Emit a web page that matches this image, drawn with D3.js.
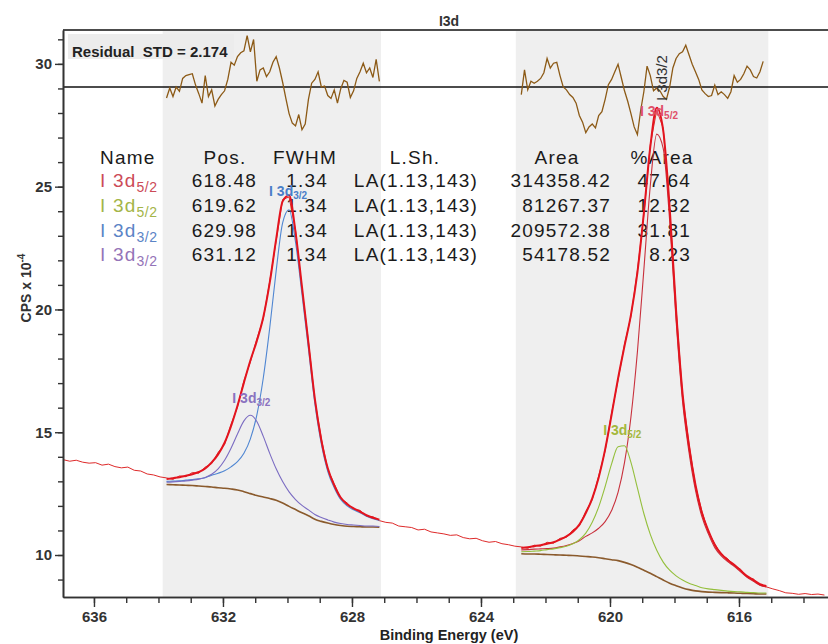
<!DOCTYPE html>
<html><head><meta charset="utf-8">
<script src="https://cdn.jsdelivr.net/npm/d3@7"></script>
<style>
body{margin:0;background:#fff}
svg{display:block;font-family:"Liberation Sans",Arial,sans-serif}
</style>
</head><body>
<svg id="c" width="828" height="644"></svg>
<script>
// ---------------- DATA ----------------
// Experimental spectrum (CPS x 10^-4), binding energy grid 636.95 eV downward, step 0.2 eV
const dataStartBE = 636.95, dataStepBE = 0.2;
const dataCPS = [13.88,13.82,13.86,13.78,13.74,13.76,13.66,13.70,13.60,13.55,13.58,13.45,13.42,13.30,13.26,13.18,
 13.14,13.08,13.22,13.19,13.36,13.33,13.58,13.72,14.18,14.50,15.32,16.02,17.10,17.86,18.80,19.62,21.15,22.80,24.48,24.58,23.22,20.85,18.70,16.30,14.74,13.48,12.90,12.30,12.12,11.86,11.82,11.58,11.56,11.40,
 11.33,11.30,11.18,11.15,11.12,11.02,11.05,10.94,10.90,10.86,10.80,10.82,10.71,10.66,10.68,10.58,10.52,10.55,10.46,10.42,10.36,
 10.33,10.27,10.40,10.36,10.52,10.48,10.68,10.72,11.02,11.18,11.78,12.25,13.22,14.24,15.78,17.12,18.58,19.72,21.58,23.85,26.70,28.12,27.38,24.08,20.02,16.52,14.52,12.82,11.78,10.94,10.46,10.01,9.85,9.56,9.42,9.10,9.02,8.77,8.70,
 8.62,8.55,8.46,8.44,8.40,8.43,8.39,8.41,8.37];

// Fit regions (eV)
const fitRegions = [[633.87, 627.10], [622.92, 615.09]];
const fitStepBE = 0.2;
const leftStartBE = 633.75;
const rightStartBE = 622.75;

// Left region (I 3d3/2): Shirley background and components (height above background)
const leftBg = [12.87,12.86,12.85,12.84,12.83,12.81,12.79,12.77,12.74,12.72,12.69,12.65,12.58,12.50,12.42,12.36,12.30,12.23,12.12,11.98,11.85,11.72,11.60,11.46,11.37,11.30,11.24,11.20,11.17,11.16,11.15,11.14,11.14,11.13];
const leftBlue = [0.13,0.15,0.17,0.21,0.24,0.29,0.36,0.48,0.59,0.71,0.90,1.15,1.56,2.23,3.28,4.85,6.95,9.35,11.41,12.08,10.89,8.90,6.80,4.70,3.15,2.10,1.50,1.06,0.83,0.68,0.57,0.44,0.34,0.28];
const leftPurple = [0.09,0.12,0.15,0.18,0.22,0.28,0.37,0.52,0.77,1.14,1.66,2.28,2.88,3.19,3.02,2.47,1.84,1.28,0.87,0.59,0.41,0.30,0.24,0.19,0.16,0.13,0.10,0.08,0.07,0.06,0.05,0.04,0.04,0.03];

// Right region (I 3d5/2)
const rightBg = [10.05,10.04,10.04,10.03,10.02,10.01,10.00,9.99,9.98,9.96,9.94,9.92,9.89,9.85,9.81,9.77,9.70,9.61,9.50,9.38,9.26,9.12,8.98,8.85,8.75,8.66,8.59,8.54,8.51,8.49,8.48,8.47,8.46,8.45,8.44,8.43,8.42,8.41,8.41];
const rightRed = [0.16,0.18,0.20,0.22,0.24,0.27,0.33,0.40,0.49,0.62,0.82,0.98,1.20,1.51,2.00,2.78,4.06,6.01,8.77,12.23,15.78,18.02,17.58,14.78,10.80,7.60,5.60,4.10,3.05,2.37,1.82,1.49,1.27,1.09,0.87,0.66,0.51,0.36,0.29];
const rightGreen = [0.08,0.10,0.12,0.15,0.20,0.24,0.30,0.37,0.48,0.66,0.95,1.41,2.07,2.94,3.90,4.64,4.75,4.16,3.23,2.31,1.58,1.07,0.73,0.53,0.40,0.32,0.26,0.22,0.16,0.13,0.11,0.09,0.07,0.06,0.06,0.05,0.05,0.04,0.04];

// Residuals (normalised), step 0.1 eV
const residStepBE = 0.1;
const residLeft = [-1.16,-0.1,-1.0,0,-0.46,0.9,1.2,1.3,1.4,0.2,-0.7,-1.7,1.2,-1.0,-0.3,-2.0,-1.3,-0.8,-0.4,0.8,
 2.6,2.3,3.2,3.6,3.8,5.4,3.7,5.0,0.6,1.8,2.0,1.1,1.6,2.6,3.2,2.0,0.5,-1.2,-2.8,-3.8,
 -4.1,-2.9,-4.5,-3.9,-1.3,0.4,0.8,1.6,0.0,0.1,-0.9,-1.2,-0.3,-1.7,-0.2,0.7,0.5,-1.1,-0.4,0.9,
 1.6,2.5,1.5,2.0,1.0,2.9,0.6];
const residRight = [-0.8,1.8,-0.3,0.6,0.4,0.6,0.9,1.5,3.0,2.0,2.5,2.6,1.2,0.0,-0.3,-0.8,-1.1,-1.7,-3.0,-3.7,
 -4.8,-4.2,-3.9,-4.3,-3.0,-2.6,-1.3,0.25,0.8,1.6,2.4,1.0,-0.4,-1.5,-2.8,-4.2,-5.0,-2.5,-0.5,2.2,
 1.2,-0.4,-0.1,-0.4,-1.0,-1.3,0.0,2.0,3.0,3.5,3.7,4.4,3.4,2.4,1.6,0.8,-0.3,-0.7,-1.0,-0.9,
 0.2,-0.8,-0.5,-0.8,-1.2,-0.5,1.2,0.5,0.8,1.4,2.2,1.8,1.1,0.95,1.6,2.7];
const residualSTD = "2.174";

// Peak table
const peakNames = ["I 3d","I 3d","I 3d","I 3d"];
const peakSubs = ["5/2","5/2","3/2","3/2"];
const peakPos = ["618.48","619.62","629.98","631.12"];
const peakFWHM = ["1.34","1.34","1.34","1.34"];
const peakLineShape = ["LA(1.13,143)","LA(1.13,143)","LA(1.13,143)","LA(1.13,143)"];
const peakArea = ["314358.42","81267.37","209572.38","54178.52"];
const peakPctArea = ["47.64","12.32","31.81","8.23"];
const tableHeaders = ["Name","Pos.","FWHM","L.Sh.","Area","%Area"];

// Axis ticks
const xMajorTicks = [636,632,628,624,620,616];
const xMinorTicks = [614,615,616,617,618,619,620,621,622,623,624,625,626,627,628,629,630,631,632,633,634,635,636];
const yMajorTicks = [10,15,20,25,30];
const yMinorTicks = [9,10,11,12,13,14,15,16,17,18,19,20,21,22,23,24,25,26,27,28,29,30,31];

// ---------------- DRAWING ----------------
const svg = d3.select("#c");
const x = d3.scaleLinear().domain([636.96, 613.24]).range([63, 828]);
const y = d3.scaleLinear().domain([8.29, 31.38]).range([597, 30]);
const yr = d3.scaleLinear().domain([-6, 6]).range([144, 30]);

const rowColors = ["#cc4b57","#a4b548","#5b84c6","#9474b8"];
const compColors = {red:"#c8303c", green:"#94bf3c", blue:"#4f86d2", purple:"#7b6cc2"};

svg.append("defs").append("clipPath").attr("id","pc")
  .append("rect").attr("x",63).attr("y",30).attr("width",765).attr("height",567);

// gray fit regions
svg.append("g").selectAll("rect").data(fitRegions).join("rect")
  .attr("x", d => x(d[0])).attr("width", d => x(d[1]) - x(d[0]))
  .attr("y", 31).attr("height", 566).attr("fill", "#efefef");

// residual label
svg.append("rect").attr("x",68).attr("y",34).attr("width",166).attr("height",25).attr("fill","#ececec");
svg.append("text").attr("x",72).attr("y",57).style("font-size","15px").style("font-weight","bold")
  .style("white-space","pre").attr("fill","#222").text("Residual  STD = " + residualSTD);

// table
const tbl = svg.append("g").attr("fill","#1a1a1a").style("font-size","19px").style("letter-spacing","1.2px");
const headerX = [100,225,305,415,557,662];
const headerAnchor = ["start","middle","middle","middle","middle","middle"];
tableHeaders.forEach((h,i)=>{
  tbl.append("text").attr("x",headerX[i]).attr("y",164).attr("text-anchor",headerAnchor[i]).text(h);
});
const rowY = [187,212,237,261];
peakNames.forEach((n,i)=>{
  const t = tbl.append("text").attr("x",100).attr("y",rowY[i]).attr("fill",rowColors[i]);
  t.append("tspan").text(n);
  t.append("tspan").attr("dy",5).style("font-size","14px").style("letter-spacing","0.5px").text(peakSubs[i]);
  tbl.append("text").attr("x",257).attr("y",rowY[i]).attr("text-anchor","end").text(peakPos[i]);
  tbl.append("text").attr("x",328).attr("y",rowY[i]).attr("text-anchor","end").text(peakFWHM[i]);
  tbl.append("text").attr("x",416).attr("y",rowY[i]).attr("text-anchor","middle").text(peakLineShape[i]);
  tbl.append("text").attr("x",611).attr("y",rowY[i]).attr("text-anchor","end").text(peakArea[i]);
  tbl.append("text").attr("x",691).attr("y",rowY[i]).attr("text-anchor","end").text(peakPctArea[i]);
});

// frame and residual zero line
svg.append("line").attr("x1",63).attr("x2",828).attr("y1",30).attr("y2",30).attr("stroke","#111").attr("stroke-width",1.4);
svg.append("line").attr("x1",63).attr("x2",828).attr("y1",yr(0)).attr("y2",yr(0)).attr("stroke","#111").attr("stroke-width",1.4);

const plot = svg.append("g").attr("clip-path","url(#pc)");
const lin = d3.line().x(d=>x(d[0])).y(d=>y(d[1]));
const smooth = d3.line().x(d=>x(d[0])).y(d=>y(d[1])).curve(d3.curveMonotoneX);
const rline = d3.line().x(d=>x(d[0])).y(d=>yr(d[1]));

// residuals
[[residLeft, leftStartBE],[residRight, rightStartBE]].forEach(([arr, s])=>{
  plot.append("path").datum(arr.map((v,i)=>[s - i*residStepBE, v]))
    .attr("d", rline).attr("fill","none").attr("stroke","#8c5a16").attr("stroke-width",1.3);
});

// experimental data
plot.append("path").datum(dataCPS.map((v,i)=>[dataStartBE - i*dataStepBE, v]))
  .attr("d", lin).attr("fill","none").attr("stroke","#de2a2a").attr("stroke-width",1);

function band(start, bg, comps){
  const be = bg.map((_,i)=> start - i*fitStepBE);
  // background
  plot.append("path").datum(bg.map((v,i)=>[be[i], v])).attr("d", smooth)
    .attr("fill","none").attr("stroke","#8a5a2c").attr("stroke-width",1.6);
  comps.forEach(c=>{
    plot.append("path").datum(c.vals.map((v,i)=>[be[i], bg[i]+v])).attr("d", smooth)
      .attr("fill","none").attr("stroke",c.color).attr("stroke-width",1.1);
  });
  const env = bg.map((b,i)=>[be[i], b + d3.sum(comps, c=>c.vals[i])]);
  plot.append("path").datum(env).attr("d", smooth)
    .attr("fill","none").attr("stroke","#e3141e").attr("stroke-width",2);
}
band(leftStartBE, leftBg, [{vals:leftBlue,color:compColors.blue},{vals:leftPurple,color:compColors.purple}]);
band(rightStartBE, rightBg, [{vals:rightRed,color:compColors.red},{vals:rightGreen,color:compColors.green}]);

// peak labels
function peakTop(start, bg, vals){
  const i = d3.maxIndex(vals);
  return bg[i] + vals[i];
}
const labelDefs = [
  {pos:+peakPos[0], top:peakTop(rightStartBE,rightBg,rightRed), color:"#e0506a", sub:peakSubs[0], off:18},
  {pos:+peakPos[1], top:peakTop(rightStartBE,rightBg,rightGreen), color:"#a4b83c", sub:peakSubs[1], off:11},
  {pos:+peakPos[2], top:peakTop(leftStartBE,leftBg,leftBlue), color:"#4a7ec8", sub:peakSubs[2], off:14},
  {pos:+peakPos[3], top:peakTop(leftStartBE,leftBg,leftPurple), color:"#8a72c0", sub:peakSubs[3], off:12}
];
labelDefs.forEach(l=>{
  const t = svg.append("text").attr("x", x(l.pos)).attr("y", y(l.top) - l.off)
    .attr("text-anchor","middle").attr("fill", l.color)
    .style("font-size","14px").style("font-weight","bold");
  t.append("tspan").text("I 3d");
  t.append("tspan").attr("dy",3).style("font-size","10px").text(l.sub);
});
// vertical marker label
svg.append("text").attr("transform",`translate(${x(+peakPos[0]) + 8},101) rotate(-90)`)
  .style("font-size","15px").attr("fill","#333").text("I 3d3/2");

// axes
const gxMin = svg.append("g").attr("transform","translate(0,597)")
  .call(d3.axisBottom(x).tickValues(xMinorTicks).tickSize(6).tickFormat("").tickSizeOuter(0));
const gx = svg.append("g").attr("transform","translate(0,597)")
  .call(d3.axisBottom(x).tickValues(xMajorTicks).tickSize(10).tickPadding(4).tickFormat(d3.format("d")).tickSizeOuter(0));
const gyMin = svg.append("g").attr("transform","translate(63,0)")
  .call(d3.axisLeft(y).tickValues(yMinorTicks).tickSize(5).tickFormat("").tickSizeOuter(0));
const gy = svg.append("g").attr("transform","translate(63,0)")
  .call(d3.axisLeft(y).tickValues(yMajorTicks).tickSize(8).tickPadding(3).tickFormat(d3.format("d")).tickSizeOuter(0));
[gxMin,gx,gyMin,gy].forEach(g=>{
  g.selectAll("path.domain").attr("stroke","#333").attr("stroke-width",1.6);
  g.selectAll(".tick line").attr("stroke","#333").attr("stroke-width",1.4);
  g.selectAll(".tick text").attr("fill","#333").style("font-size","15px").style("font-weight","bold")
   .style("font-family","'Liberation Sans',Arial,sans-serif");
});

// titles
svg.append("text").attr("x",449).attr("y",26).attr("text-anchor","middle")
  .style("font-size","14px").style("font-weight","bold").attr("fill","#333").text("I3d");
svg.append("text").attr("x",449).attr("y",640).attr("text-anchor","middle")
  .style("font-size","14.5px").style("font-weight","bold").attr("fill","#222").text("Binding Energy (eV)");
const yt = svg.append("text").attr("transform","translate(31,288) rotate(-90)").attr("text-anchor","middle")
  .style("font-size","14px").style("font-weight","bold").attr("fill","#333");
yt.append("tspan").text("CPS x 10");
yt.append("tspan").attr("dy",-6).style("font-size","10px").text("-4");
</script>
</body></html>
